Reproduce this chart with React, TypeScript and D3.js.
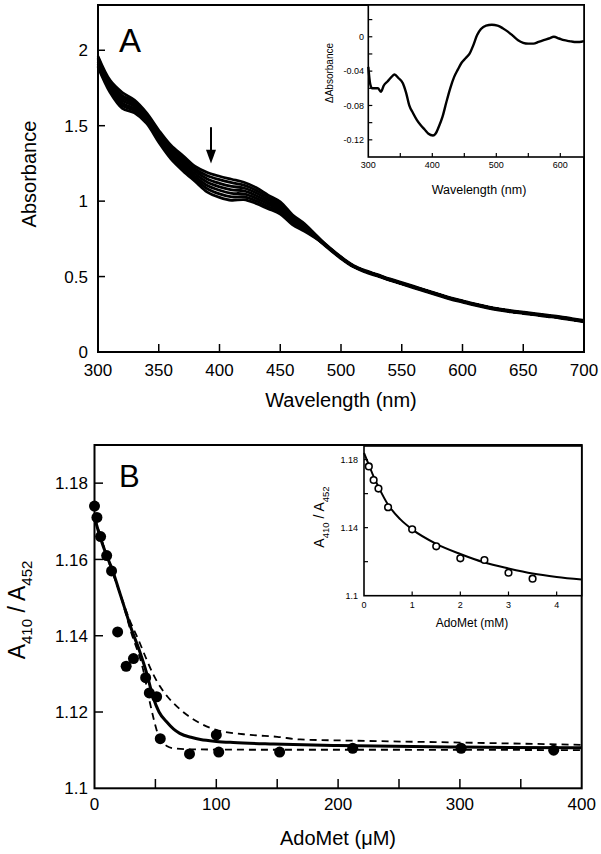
import React from "react";
import * as d3 from "d3";

// ---------- Panel A: titration spectra ----------
const WL = [300, 310, 320, 330, 340, 350, 360, 370, 380, 390, 400, 410, 420, 430, 440, 450, 460, 470, 480];
const SPECTRUM_0 = [1.96, 1.8, 1.72, 1.67, 1.585, 1.47, 1.37, 1.3, 1.23, 1.19, 1.165, 1.145, 1.125, 1.09, 1.04, 0.995, 0.91, 0.85, 0.77];
const SPECTRUM_1 = [1.95, 1.787, 1.7, 1.656, 1.573, 1.457, 1.355, 1.283, 1.213, 1.168, 1.142, 1.122, 1.106, 1.0725, 1.025, 0.982, 0.899, 0.842, 0.767];
const SPECTRUM_2 = [1.94, 1.773, 1.685, 1.642, 1.562, 1.443, 1.34, 1.267, 1.197, 1.147, 1.118, 1.098, 1.087, 1.055, 1.01, 0.968, 0.888, 0.833, 0.763];
const SPECTRUM_3 = [1.925, 1.76, 1.668, 1.628, 1.55, 1.43, 1.325, 1.25, 1.18, 1.125, 1.095, 1.075, 1.068, 1.0375, 0.995, 0.955, 0.878, 0.825, 0.76];
const SPECTRUM_4 = [1.91, 1.747, 1.65, 1.613, 1.538, 1.417, 1.31, 1.233, 1.163, 1.103, 1.072, 1.052, 1.048, 1.02, 0.98, 0.942, 0.867, 0.817, 0.757];
const SPECTRUM_5 = [1.9, 1.733, 1.633, 1.599, 1.527, 1.403, 1.295, 1.217, 1.147, 1.082, 1.048, 1.028, 1.029, 1.0025, 0.965, 0.928, 0.856, 0.808, 0.753];
const SPECTRUM_6 = [1.89, 1.72, 1.615, 1.585, 1.515, 1.39, 1.28, 1.2, 1.13, 1.06, 1.025, 1.005, 1.01, 0.985, 0.95, 0.915, 0.845, 0.8, 0.75];
const SPECTRA = [SPECTRUM_0, SPECTRUM_1, SPECTRUM_2, SPECTRUM_3, SPECTRUM_4, SPECTRUM_5, SPECTRUM_6];
const TAIL_WL = [480, 490, 500, 510, 520, 530, 540, 550, 560, 570, 580, 590, 600, 610, 620, 630, 640, 650, 660, 670, 680, 690, 700];
const TAIL_ABS = [0.76, 0.69, 0.625, 0.57, 0.535, 0.508, 0.48, 0.455, 0.43, 0.405, 0.38, 0.355, 0.335, 0.315, 0.297, 0.282, 0.27, 0.26, 0.25, 0.24, 0.23, 0.217, 0.205];
const A_X_TICKS = [300, 350, 400, 450, 500, 550, 600, 650, 700];
const A_Y_TICKS = [0, 0.5, 1, 1.5, 2];

// inset A: difference spectrum
const DIFF_WL = [300, 303, 306, 315, 320, 324, 330, 336, 341, 347, 354, 359, 364, 370, 376, 382, 388, 394, 401, 405, 410, 416, 422, 428, 434, 440, 446, 452, 458, 464, 470, 476, 484, 493, 502, 510, 518, 526, 534, 542, 550, 558, 566, 574, 582, 590, 598, 606, 614, 622, 630, 637];
const DIFF_ABS = [-0.035, -0.055, -0.06, -0.06, -0.064, -0.057, -0.052, -0.047, -0.044, -0.048, -0.054, -0.065, -0.08, -0.089, -0.097, -0.103, -0.108, -0.113, -0.115, -0.113, -0.105, -0.093, -0.076, -0.06, -0.047, -0.038, -0.03, -0.025, -0.02, -0.01, 0.002, 0.009, 0.013, 0.014, 0.013, 0.01, 0.006, 0.001, -0.004, -0.007, -0.008, -0.008, -0.006, -0.004, -0.002, 0.0, -0.002, -0.004, -0.005, -0.006, -0.006, -0.005];
const AI_X_TICKS = [350, 400, 450, 500, 550, 600];
const AI_X_LABELS = [300, 400, 500, 600];
const AI_Y_TICKS = [-0.12, -0.1, -0.08, -0.06, -0.04, -0.02, 0, 0.02];
const AI_Y_LABELS = [-0.12, -0.08, -0.04, 0];

// ---------- Panel B: A410/A452 vs AdoMet ----------
const B_X = [0, 2, 5, 10, 14, 19, 26, 32, 42, 45, 51, 54, 78, 100, 102, 152, 212, 301, 377];
const B_Y = [1.174, 1.171, 1.166, 1.161, 1.157, 1.141, 1.132, 1.134, 1.129, 1.125, 1.124, 1.113, 1.109, 1.114, 1.1095, 1.1095, 1.1105, 1.1105, 1.11];
const FIT_X = [0, 5, 10, 15, 20, 26, 30, 37, 43, 48, 53, 59, 65, 70, 80, 87, 100, 114, 147, 200, 300, 400];
const FIT_Y = [1.171, 1.1655, 1.161, 1.157, 1.152, 1.146, 1.142, 1.136, 1.13, 1.124, 1.12, 1.1175, 1.1155, 1.1144, 1.1133, 1.1128, 1.1123, 1.112, 1.1116, 1.1112, 1.1108, 1.1106];
const UPPER_X = [0, 10, 20, 29, 36, 43, 48, 54, 60, 65, 76, 87, 100, 128, 150, 169, 210, 300, 400];
const UPPER_Y = [1.171, 1.161, 1.152, 1.144, 1.139, 1.1336, 1.13, 1.1266, 1.124, 1.1223, 1.1192, 1.117, 1.1153, 1.114, 1.1135, 1.1128, 1.1125, 1.112, 1.1114];
const LOWER_X = [0, 10, 20, 30, 40, 45.6, 51, 53.8, 59.3, 64.7, 80, 150, 250, 400];
const LOWER_Y = [1.171, 1.161, 1.152, 1.141, 1.131, 1.1223, 1.1153, 1.1127, 1.1111, 1.1105, 1.1102, 1.1101, 1.1101, 1.11];
const B_X_TICKS = [50, 100, 150, 200, 250, 300, 350];
const B_X_LABELS = [0, 100, 200, 300, 400];
const B_Y_TICKS = [1.12, 1.14, 1.16, 1.18];
const B_Y_LABELS = [1.1, 1.12, 1.14, 1.16, 1.18];

// inset B
const BI_X = [0.1, 0.2, 0.3, 0.5, 1, 1.5, 2, 2.5, 3, 3.5];
const BI_Y = [1.176, 1.168, 1.163, 1.152, 1.139, 1.129, 1.122, 1.121, 1.1135, 1.11];
const BI_FIT_X = [0, 0.1, 0.2, 0.3, 0.5, 0.75, 1, 1.5, 2, 2.5, 3, 3.5, 4, 4.52];
const BI_FIT_Y = [1.184, 1.177, 1.17, 1.164, 1.1535, 1.145, 1.139, 1.1305, 1.1245, 1.1195, 1.116, 1.113, 1.111, 1.1095];
const BI_X_TICKS = [1, 2, 3, 4];
const BI_X_LABELS = [0, 1, 2, 3, 4];
const BI_Y_TICKS = [1.12, 1.14, 1.16, 1.18];
const BI_Y_LABELS = [1.1, 1.14, 1.18];

const FONT = "'Liberation Sans', Arial, Helvetica, sans-serif";

export default function App() {
  // scales
  const xA = d3.scaleLinear().domain([300, 700]).range([98, 584]);
  const yA = d3.scaleLinear().domain([0, 2.3]).range([352, 5]);
  const xAi = d3.scaleLinear().domain([300, 637]).range([368.3, 584]);
  const yAi = d3.scaleLinear().domain([-0.14, 0.037]).range([157, 5]);
  const xB = d3.scaleLinear().domain([0, 400]).range([94.5, 581.7]);
  const yB = d3.scaleLinear().domain([1.1, 1.19]).range([788.3, 445]);
  const xBi = d3.scaleLinear().domain([0, 4.52]).range([364, 581.7]);
  const yBi = d3.scaleLinear().domain([1.1, 1.188]).range([595.7, 446]);

  const lineA = d3
    .line<[number, number]>()
    .x((d) => xA(d[0]))
    .y((d) => yA(d[1]))
    .curve(d3.curveCatmullRom.alpha(0.5));
  const lineAi = d3
    .line<[number, number]>()
    .x((d) => xAi(d[0]))
    .y((d) => yAi(d[1]))
    .curve(d3.curveMonotoneX);
  const lineB = d3
    .line<[number, number]>()
    .x((d) => xB(d[0]))
    .y((d) => yB(d[1]))
    .curve(d3.curveMonotoneX);
  const lineBi = d3
    .line<[number, number]>()
    .x((d) => xBi(d[0]))
    .y((d) => yBi(d[1]))
    .curve(d3.curveMonotoneX);

  const zip = (xs: number[], ys: number[]) => xs.map((x, i) => [x, ys[i]] as [number, number]);

  const arrowX = xA(393);
  const arrowTop = yA(1.49);
  const arrowTip = yA(1.25);
  const arrowHead = yA(1.34);

  return (
    <svg
      width={601}
      height={854}
      viewBox="0 0 601 854"
      style={{ position: "absolute", left: 0, top: 0, background: "#fff", display: "block" }}
      fontFamily={FONT}
    >
      <rect x={0} y={0} width={601} height={854} fill="#fff" />

      {/* ================= PANEL A ================= */}
      <g>
        {/* spectra */}
        {SPECTRA.map((s, i) => (
          <path
            key={i}
            d={lineA(zip([...WL, ...TAIL_WL.slice(1)], [...s, ...TAIL_ABS.slice(1)])) || ""}
            fill="none"
            stroke="#000"
            strokeWidth={2.8}
          />
        ))}
        <path d={lineA(zip(TAIL_WL, TAIL_ABS)) || ""} fill="none" stroke="#000" strokeWidth={4.2} />

        {/* arrow */}
        <line x1={arrowX} x2={arrowX} y1={arrowTop} y2={arrowHead + 2} stroke="#000" strokeWidth={2} />
        <path
          d={`M${arrowX - 5},${arrowHead} L${arrowX + 5},${arrowHead} L${arrowX},${arrowTip} Z`}
          fill="#000"
        />

        {/* frame */}
        <rect x={98} y={5} width={486} height={347} fill="none" stroke="#000" strokeWidth={2} />

        {/* x ticks */}
        {A_X_TICKS.map((t) => (
          <g key={t}>
            <line x1={xA(t)} x2={xA(t)} y1={352} y2={344} stroke="#000" strokeWidth={1.5} />
            <text x={xA(t)} y={376} textAnchor="middle" fontSize={17}>
              {t}
            </text>
          </g>
        ))}
        {/* y ticks */}
        {A_Y_TICKS.map((t) => (
          <g key={t}>
            <line x1={98} x2={105} y1={yA(t)} y2={yA(t)} stroke="#000" strokeWidth={1.5} />
            <text x={88} y={yA(t)} dy="0.36em" textAnchor="end" fontSize={17}>
              {t}
            </text>
          </g>
        ))}
        <text x={341} y={407} textAnchor="middle" fontSize={20}>
          Wavelength (nm)
        </text>
        <text transform="translate(36,174) rotate(-90)" textAnchor="middle" fontSize={20}>
          Absorbance
        </text>
        <text x={119} y={52} fontSize={33}>
          A
        </text>

        {/* inset A */}
        <rect x={368.3} y={5} width={215.7} height={152} fill="#fff" stroke="#000" strokeWidth={1.6} />
        <path d={lineAi(zip(DIFF_WL, DIFF_ABS)) || ""} fill="none" stroke="#000" strokeWidth={2.4} />
        {AI_X_TICKS.map((t) => (
          <line key={t} x1={xAi(t)} x2={xAi(t)} y1={157} y2={153} stroke="#000" strokeWidth={1.2} />
        ))}
        {AI_X_LABELS.map((t) => (
          <text key={t} x={xAi(t)} y={168} textAnchor="middle" fontSize={9}>
            {t}
          </text>
        ))}
        {AI_Y_TICKS.map((t) => (
          <line key={t} x1={368.3} x2={372.3} y1={yAi(t)} y2={yAi(t)} stroke="#000" strokeWidth={1.2} />
        ))}
        {AI_Y_LABELS.map((t) => (
          <text key={t} x={364} y={yAi(t)} dy="0.35em" textAnchor="end" fontSize={9}>
            {t}
          </text>
        ))}
        <text x={479} y={194} textAnchor="middle" fontSize={12.5}>
          Wavelength (nm)
        </text>
        <text transform="translate(333,73) rotate(-90)" textAnchor="middle" fontSize={10}>
          ΔAbsorbance
        </text>
      </g>

      {/* ================= PANEL B ================= */}
      <g>
        <path d={lineB(zip(UPPER_X, UPPER_Y)) || ""} fill="none" stroke="#000" strokeWidth={1.8} strokeDasharray="7,5" />
        <path d={lineB(zip(LOWER_X, LOWER_Y)) || ""} fill="none" stroke="#000" strokeWidth={1.8} strokeDasharray="7,5" />
        <path d={lineB(zip(FIT_X, FIT_Y)) || ""} fill="none" stroke="#000" strokeWidth={3} />
        {B_X.map((x, i) => (
          <circle key={i} cx={xB(x)} cy={yB(B_Y[i])} r={5.5} fill="#000" />
        ))}

        <rect x={94.5} y={445} width={487.2} height={343.3} fill="none" stroke="#000" strokeWidth={2} />
        {B_X_TICKS.map((t) => (
          <line key={t} x1={xB(t)} x2={xB(t)} y1={788.3} y2={779} stroke="#000" strokeWidth={1.5} />
        ))}
        {B_X_LABELS.map((t) => (
          <text key={t} x={xB(t)} y={810} textAnchor="middle" fontSize={17}>
            {t}
          </text>
        ))}
        {B_Y_TICKS.map((t) => (
          <line key={t} x1={94.5} x2={103} y1={yB(t)} y2={yB(t)} stroke="#000" strokeWidth={1.5} />
        ))}
        {B_Y_LABELS.map((t) => (
          <text key={t} x={88} y={yB(t)} dy="0.36em" textAnchor="end" fontSize={17}>
            {t === 1.1 ? "1.1" : t.toFixed(2)}
          </text>
        ))}
        <text x={338} y={845} textAnchor="middle" fontSize={20}>
          AdoMet (μM)
        </text>
        <text transform="translate(25,610) rotate(-90)" textAnchor="middle" fontSize={23}>
          A
          <tspan fontSize={15} dy={7}>
            410
          </tspan>
          <tspan dy={-7}> / A</tspan>
          <tspan fontSize={15} dy={7}>
            452
          </tspan>
        </text>
        <text x={119} y={487} fontSize={31}>
          B
        </text>

        {/* inset B */}
        <rect x={364} y={446} width={217.7} height={149.7} fill="#fff" stroke="#000" strokeWidth={1.6} />
        <path d={lineBi(zip(BI_FIT_X, BI_FIT_Y)) || ""} fill="none" stroke="#000" strokeWidth={2} />
        {BI_X.map((x, i) => (
          <circle key={i} cx={xBi(x)} cy={yBi(BI_Y[i])} r={3.3} fill="#fff" stroke="#000" strokeWidth={1.6} />
        ))}
        {BI_X_TICKS.map((t) => (
          <line key={t} x1={xBi(t)} x2={xBi(t)} y1={595.7} y2={591.5} stroke="#000" strokeWidth={1.2} />
        ))}
        {BI_X_LABELS.map((t) => (
          <text key={t} x={xBi(t)} y={608} textAnchor="middle" fontSize={9}>
            {t}
          </text>
        ))}
        {BI_Y_TICKS.map((t) => (
          <line key={t} x1={364} x2={368} y1={yBi(t)} y2={yBi(t)} stroke="#000" strokeWidth={1.2} />
        ))}
        {BI_Y_LABELS.map((t) => (
          <text key={t} x={358} y={yBi(t)} dy="0.35em" textAnchor="end" fontSize={9}>
            {t === 1.1 ? "1.1" : t.toFixed(2)}
          </text>
        ))}
        <text x={472} y={627} textAnchor="middle" fontSize={12}>
          AdoMet (mM)
        </text>
        <text transform="translate(324,517) rotate(-90)" textAnchor="middle" fontSize={14}>
          A
          <tspan fontSize={9.5} dy={4.5}>
            410
          </tspan>
          <tspan dy={-4.5}> / A</tspan>
          <tspan fontSize={9.5} dy={4.5}>
            452
          </tspan>
        </text>
      </g>
    </svg>
  );
}
